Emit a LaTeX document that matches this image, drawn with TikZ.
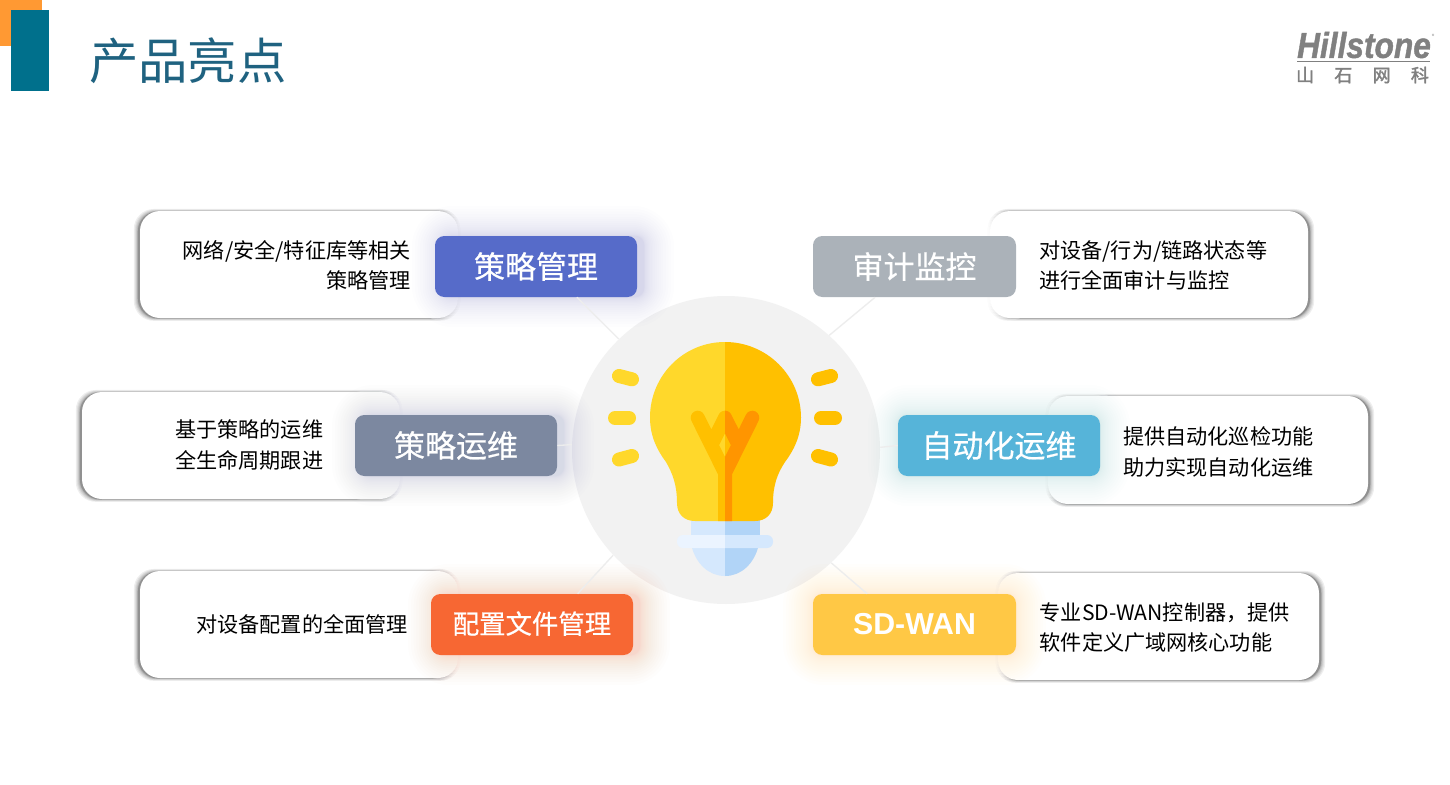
\documentclass[tikz,border=0pt]{standalone}
\usepackage{fontspec}
\setmainfont{Noto Sans CJK SC}
\newfontfamily\cjkmed[FakeBold=0.5]{Noto Sans CJK SC}
\newfontfamily\cjklogo[FakeBold=2]{Noto Sans CJK SC}
\newfontfamily\latinbold{Liberation Sans}
\newfontfamily\logolatin[FakeBold=1.2]{Liberation Sans}
\definecolor{titlecol}{HTML}{1F6280}
\definecolor{orangebar}{HTML}{FF9933}
\definecolor{tealbar}{HTML}{00708C}
\definecolor{logogray}{HTML}{808080}
\definecolor{hubgray}{HTML}{F2F2F2}
\definecolor{linkgray}{HTML}{EDEDED}
\definecolor{cblue}{HTML}{566BC9}
\definecolor{cgray}{HTML}{ABB2B9}
\definecolor{cslate}{HTML}{7C88A0}
\definecolor{csky}{HTML}{56B4D9}
\definecolor{corange}{HTML}{F76733}
\definecolor{cyellow}{HTML}{FFC845}
\definecolor{bulbl}{HTML}{FFD82B}
\definecolor{bulbr}{HTML}{FFC000}
\definecolor{filr}{HTML}{FF9500}
\definecolor{basel}{HTML}{D5E8FD}
\definecolor{baser}{HTML}{B1D4F7}
\definecolor{collarl}{HTML}{EBF4FF}
\tikzset{
  badgebox/.style={fill=#1,text=white,minimum width=151.5pt,minimum height=45.75pt,rounded corners=7pt,inner sep=0pt},
  badgetext/.style={font=\fontsize{23.25pt}{28pt}\cjkmed},
  cardbox/.style={fill=white,rounded corners=15pt,inner sep=0pt,minimum height=80.25pt},
  cardtext/.style={font=\fontsize{15.85pt}{22.8pt}\selectfont,text=black,inner sep=0pt},
  link/.style={draw=linkgray,line width=1pt},
  ray/.style={line width=10.5pt,line cap=round},
  filament/.style={line width=10.5pt,line cap=round,line join=round},
}
% x1 y1 x2 y2 dx : soft shadow of a card, displaced sideways
\newcommand{\cardshadow}[5]{%
  \foreach \i in {0,...,7}{%
    \fill[black,opacity=.065,rounded corners=15pt]
      ({#1+#5-\i*\i*.085},{#2+.4-\i*\i*.05}) rectangle ({#3+#5+\i*\i*.085},{#4+.4+\i*\i*.05});
  }}
% x1 y1 x2 y2 : white halo that fades a card's shadow beside a badge
\newcommand{\badgehalo}[4]{%
  \foreach \i in {8,...,1}{%
    \fill[white,opacity=.3,rounded corners=7pt+\i*2.25pt]
      ({#1-\i*3},{#2-\i*3}) rectangle ({#3+\i*3},{#4+\i*3});
  }}
% x1 y1 x2 y2 colour dx dy
\newcommand{\badgeglow}[7]{%
  \foreach \i in {1,...,20}{%
    \fill[#5,opacity=.012,rounded corners=7pt+\i*\i*.06pt]
      ({#1+#6-\i*\i*.075},{#2+#7-\i*\i*.075}) rectangle ({#3+#6+\i*\i*.075},{#4+#7+\i*\i*.075});
  }}
\def\bulbpath{(725,342) .. controls (683.3,342) and (650,375.8) .. (650,417.5)
  .. controls (650,436) and (657,450) .. (666,462)
  .. controls (673,474) and (677,486) .. (677,503)
  .. controls (677,514) and (684,521) .. (695,521)
  -- (755,521) .. controls (766,521) and (773,514) .. (773,503)
  .. controls (773,486) and (777,474) .. (785,462)
  .. controls (794,450) and (801,436) .. (801,417.5)
  .. controls (801,375.8) and (766.7,342) .. (725,342) -- cycle}
\def\filamentpaths{%
  (697.7,417.7) -- (725,472.7) -- (725,530)
  (752.3,417.7) -- (725,472.7)
  (725,417.7) -- (711.3,445)
  (725,417.7) -- (738.7,445)}
\def\basepath{(691,515) rectangle (760,540)}
\def\domepath{(691.5,546) .. controls (696,564) and (709,576) .. (725,576)
  .. controls (741,576) and (754,564) .. (758.5,546) -- cycle}
\def\collarpath{(677,535) rectangle (773,548)}
\begin{document}
\begin{tikzpicture}[x=.75pt,y=-.75pt]
\useasboundingbox (0,0) rectangle (1450,785);
\fill[white] (0,0) rectangle (1450,785);

% header
\fill[orangebar] (0,0) rectangle (42,46);
\fill[tealbar] (11,10) rectangle (49,91);
\node[anchor=west,inner sep=0pt,text=titlecol,font=\fontsize{37pt}{40pt}\selectfont] (title) at (89,61) {产品亮点};

% logo
\node[inner sep=0pt,text=logogray,xscale=.88,font=\fontsize{27pt}{30pt}\logolatin\bfseries\itshape] (logoname) at (1364,45) {Hillstone};
\node[inner sep=0pt,text=logogray,font=\fontsize{4pt}{5pt}\selectfont] (logoreg) at (1433,36) {®};
\coordinate (logoL) at (1297,61.5);
\coordinate (logoR) at (1430,61.5);
\draw[logogray,line width=.6pt] (logoL) -- (logoR);
\node[inner sep=0pt,text=logogray,font=\fontsize{13.5pt}{15pt}\cjklogo] (logocn) at (1362.5,75) {山\hspace{15.2pt}石\hspace{15.2pt}网\hspace{15.2pt}科};

% cards
\cardshadow{140}{211}{458}{318}{-2}
\node[cardbox,minimum width=238.5pt] (c1) at (299,264.5) {};
\cardshadow{990}{211}{1308}{318}{2}
\node[cardbox,minimum width=238.5pt] (c2) at (1149,264.5) {};
\cardshadow{82}{392}{400}{499}{-2}
\node[cardbox,minimum width=238.5pt] (c3) at (241,445.5) {};
\cardshadow{1048}{396}{1368}{504}{2}
\node[cardbox,minimum width=240pt,minimum height=81pt] (c4) at (1208,450) {};
\cardshadow{140}{571}{458}{678}{-2}
\node[cardbox,minimum width=238.5pt] (c5) at (299,624.5) {};
\cardshadow{998}{573}{1319}{680}{2}
\node[cardbox,minimum width=240.75pt] (c6) at (1158.5,626.5) {};

% halos
\badgehalo{435}{236}{637}{297}
\badgehalo{813}{236}{1016}{297}
\badgehalo{355}{415}{557}{476}
\badgehalo{898}{415}{1100}{476}
\badgehalo{431}{594}{633}{655}
\badgehalo{813}{594}{1016}{655}

% hub
\node[circle,fill=hubgray,minimum size=231pt,inner sep=0pt] (hub) at (726,450) {};

% glows
\badgeglow{435}{236}{637}{297}{cblue}{7}{0}
\badgeglow{355}{415}{557}{476}{cslate}{7}{0}
\badgeglow{898}{415}{1100}{476}{csky}{0}{0}
\badgeglow{431}{594}{633}{655}{corange}{7}{0}
\badgeglow{813}{594}{1016}{655}{cyellow}{0}{0}

% badges
\node[badgebox=cblue,badgetext] (b1) at (536,266.5) {策略管理};
\node[badgebox=cgray,badgetext,minimum width=152.25pt] (b2) at (914.5,266.5) {审计监控};
\node[badgebox=cslate,badgetext] (b3) at (456,445.5) {策略运维};
\node[badgebox=csky,badgetext] (b4) at (999,445.5) {自动化运维};
\node[badgebox=corange,font=\fontsize{19.8pt}{24pt}\cjkmed] (b5) at (532,624.5) {\raisebox{3pt}{配置文件管理}};
\node[badgebox=cyellow,minimum width=152.25pt,font=\fontsize{22.7pt}{28pt}\latinbold\bfseries] (b6) at (914.5,624.5) {SD-WAN};

% connectors
\draw[link] (b1.-37) -- (hub.134);
\draw[link] (b2.218) -- (hub.48);
\draw[link] (b3.east) -- (hub.178.4);
\draw[link] (b4.west) -- (hub.1.6);
\draw[link] (b5.34) -- (hub.223);
\draw[link] (b6.147) -- (hub.313);

% card texts
\node[cardtext,anchor=east,align=right] (t1) at (411,265.5) {网络/安全/特征库等相关\\策略管理};
\node[cardtext,anchor=west,align=left] (t2) at (1039,265.5) {对设备/行为/链路状态等\\进行全面审计与监控};
\node[cardtext,anchor=east,align=left] (t3) at (323.5,445) {基于策略的运维\\全生命周期跟进};
\node[cardtext,anchor=west,align=left] (t4) at (1123,452) {提供自动化巡检功能\\助力实现自动化运维};
\node[cardtext,anchor=east] (t5) at (408,624) {对设备配置的全面管理};
\node[cardtext,anchor=west,align=left] (t6) at (1039.5,627.5) {专业SD-WAN控制器，提供\\软件定义广域网核心功能};

% bulb: left half
\begin{scope}
  \clip (600,330) rectangle (725,590);
  \fill[basel] \basepath;
  \fill[basel] \domepath;
  \fill[collarl,rounded corners=4.5pt] \collarpath;
  \fill[bulbl] \bulbpath;
  \begin{scope}
    \clip \bulbpath;
    \draw[filament,bulbr] \filamentpaths;
  \end{scope}
\end{scope}
% bulb: right half
\begin{scope}
  \clip (725,330) rectangle (850,590);
  \fill[baser] \basepath;
  \fill[baser] \domepath;
  \fill[basel,rounded corners=4.5pt] \collarpath;
  \fill[bulbr] \bulbpath;
  \begin{scope}
    \clip \bulbpath;
    \draw[filament,filr] \filamentpaths;
  \end{scope}
\end{scope}
% rays
\draw[ray,bulbl] (619,376) -- (632,379.3);
\draw[ray,bulbl] (615,418) -- (629,418);
\draw[ray,bulbl] (619,459.5) -- (632,456);
\draw[ray,bulbr] (831,376) -- (818,379.3);
\draw[ray,bulbr] (835,418) -- (821,418);
\draw[ray,bulbr] (831,459.5) -- (818,456);
\end{tikzpicture}
\end{document}
